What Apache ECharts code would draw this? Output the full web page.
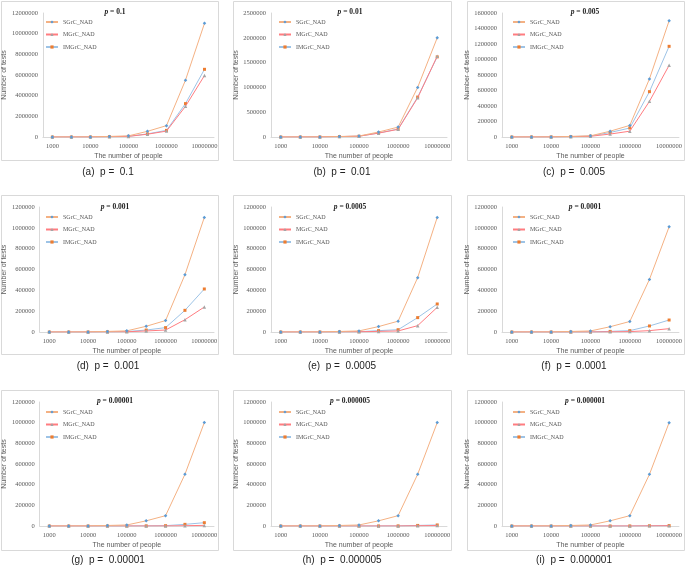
<!DOCTYPE html>
<html>
<head>
<meta charset="utf-8">
<script src="https://cdn.jsdelivr.net/npm/echarts@6/dist/echarts.min.js"></script>
<style>
  html, body { margin: 0; padding: 0; background: #fff; }
  #chart { width: 685px; height: 567px; }
</style>
</head>
<body>
<div id="chart"></div>
<script>
// x categories (number of people) and the panels' p values
var people = ['1000', '5000', '10000', '50000', '100000', '500000', '1000000', '5000000', '10000000'];
var pValues = ['0.1', '0.01', '0.005', '0.001', '0.0005', '0.0001', '0.00001', '0.000005', '0.000001'];
var panelTags = ['a', 'b', 'c', 'd', 'e', 'f', 'g', 'h', 'i'];
var yMax = [12000000, 2500000, 1600000, 1200000, 1200000, 1200000, 1200000, 1200000, 1200000];
var yStep = [2000000, 500000, 200000, 200000, 200000, 200000, 200000, 200000, 200000];

// (a) p = 0.1
var sgrcA = [1100, 5500, 11000, 55000, 110000, 550000, 1100000, 5500000, 11000000];
var mgrcA = [600, 2950, 5950, 29500, 59000, 270000, 570000, 2970000, 5950000];
var imgrcA = [660, 3250, 6500, 32500, 65000, 300000, 640000, 3230000, 6550000];
// (b) p = 0.01
var sgrcB = [200, 1000, 2000, 10000, 20000, 100000, 200000, 1000000, 2000000];
var mgrcB = [160, 800, 1600, 8000, 16000, 78000, 155000, 790000, 1630000];
var imgrcB = [165, 810, 1620, 8100, 16200, 80000, 160000, 805000, 1615000];
// (c) p = 0.005
var sgrcC = [150, 750, 1500, 7500, 15000, 75000, 150000, 750000, 1500000];
var mgrcC = [95, 460, 920, 4600, 9200, 38000, 75000, 460000, 925000];
var imgrcC = [120, 590, 1170, 5850, 11700, 58000, 116000, 585000, 1170000];
// (d) p = 0.001
var sgrcD = [110, 550, 1100, 5500, 11000, 55000, 110000, 550000, 1100000];
var mgrcD = [24, 120, 240, 1200, 2400, 10000, 19000, 118000, 240000];
var imgrcD = [41, 205, 410, 2050, 4100, 19000, 42000, 208000, 413000];
// (e) p = 0.0005
var sgrcE = [105, 525, 1050, 5250, 10500, 52000, 104000, 522000, 1100000];
var mgrcE = [24, 120, 240, 1200, 2400, 6000, 10000, 61000, 237000];
var imgrcE = [27, 135, 270, 1350, 2700, 13000, 22000, 138000, 269000];
// (f) p = 0.0001
var sgrcF = [101, 505, 1010, 5050, 10100, 50500, 101000, 505000, 1010000];
var mgrcF = [3, 16, 32, 160, 320, 1800, 4000, 13000, 32000];
var imgrcF = [12, 58, 115, 580, 1150, 6000, 13000, 58000, 115000];
// (g) p = 0.00001
var sgrcG = [100, 500, 1001, 5005, 10010, 50050, 100100, 500500, 1001000];
var mgrcG = [1, 3, 6, 30, 60, 300, 600, 3000, 6000];
var imgrcG = [3, 16, 32, 160, 320, 1600, 3200, 16000, 32000];
// (h) p = 0.000005
var sgrcH = [100, 500, 1000, 5003, 10005, 50025, 100050, 500250, 1000500];
var mgrcH = [1, 3, 5, 25, 50, 250, 500, 2500, 5000];
var imgrcH = [1, 5, 10, 50, 100, 500, 1000, 5500, 10000];
// (i) p = 0.000001
var sgrcI = [100, 500, 1000, 5001, 10001, 50005, 100010, 500050, 1000100];
var mgrcI = [1, 2, 3, 15, 30, 150, 300, 1500, 3000];
var imgrcI = [1, 2, 4, 20, 40, 200, 400, 2000, 4000];

var panels = [
  [sgrcA, mgrcA, imgrcA], [sgrcB, mgrcB, imgrcB], [sgrcC, mgrcC, imgrcC],
  [sgrcD, mgrcD, imgrcD], [sgrcE, mgrcE, imgrcE], [sgrcF, mgrcF, imgrcF],
  [sgrcG, mgrcG, imgrcG], [sgrcH, mgrcH, imgrcH], [sgrcI, mgrcI, imgrcI]
];

(function() {
  var chart = echarts.init(document.getElementById('chart'), null, { renderer: 'canvas' });

  var serif = '"Liberation Serif", "DejaVu Serif", serif';
  var sans = '"Liberation Sans", "DejaVu Sans", sans-serif';
  var labelGrey = '#595959';
  var ruleGrey = '#d9d9d9';

  // layout of the 3x3 grid
  var colX = [[37, 214], [271, 447], [502, 681]];
  var rowY = [[13, 137], [207, 332], [402, 526]];
  var boxX = [[1, 218], [233, 451], [467, 684]];
  var boxY = [[1, 160], [195, 354], [390, 550]];
  var titleX = [110, 345, 580];
  var titleY = [3, 198, 392];
  var capX = [108, 342, 574];
  var capY = [167, 361, 555];
  var legendX = [45, 278, 512];
  var legendY = [17.5, 212.5, 407.5];

  var seriesStyle = [
    { name: 'SGrC_NAD', line: '#f4b183', mark: '#5b9bd5', symbol: 'diamond', size: 3.5 },
    { name: 'MGrC_NAD', line: '#ff7c80', mark: '#a5a5a5', symbol: 'triangle', size: 3.5 },
    { name: 'IMGrC_NAD', line: '#9dc3e6', mark: '#ed7d31', symbol: 'rect', size: 3 }
  ];

  var grid = [], xAxis = [], yAxis = [], series = [], title = [], legend = [], graphic = [];

  for (var i = 0; i < 9; i++) {
    var r = Math.floor(i / 3), c = i % 3;
    grid.push({
      left: colX[c][0], width: colX[c][1] - colX[c][0],
      top: rowY[r][0], height: rowY[r][1] - rowY[r][0]
    });
    xAxis.push({
      gridIndex: i,
      type: 'category',
      data: people,
      boundaryGap: true,
      axisTick: { show: false },
      axisLine: { lineStyle: { color: ruleGrey, width: 1 } },
      axisLabel: { interval: 1, fontSize: 6.5, color: labelGrey, fontFamily: serif, margin: 6 },
      name: 'The number of people',
      nameLocation: 'middle',
      nameGap: 16,
      nameTextStyle: { fontSize: 7, color: labelGrey, fontFamily: sans }
    });
    yAxis.push({
      gridIndex: i,
      type: 'value',
      min: 0,
      max: yMax[i],
      interval: yStep[i],
      splitLine: { show: false },
      axisTick: { show: false },
      axisLine: { show: true, lineStyle: { color: ruleGrey, width: 1 } },
      axisLabel: {
        fontSize: 6.5, color: labelGrey, fontFamily: serif, margin: 5,
        formatter: function(v) { return String(v); }
      },
      name: 'Number of tests',
      nameLocation: 'middle',
      nameRotate: 90,
      nameGap: 30,
      nameTextStyle: { fontSize: 7, color: labelGrey, fontFamily: sans }
    });
    for (var s = 0; s < 3; s++) {
      var st = seriesStyle[s];
      series.push({
        type: 'line',
        name: st.name,
        xAxisIndex: i,
        yAxisIndex: i,
        data: panels[i][s],
        symbol: st.symbol,
        symbolSize: st.size,
        showAllSymbol: true,
        lineStyle: { color: st.line, width: 1 },
        itemStyle: { color: st.mark },
        z: 3 - s,
        animation: false
      });
    }
    title.push({
      text: '{i|p} = ' + pValues[i],
      left: titleX[c],
      top: titleY[r],
      textAlign: 'center',
      textStyle: {
        fontSize: 7.5, fontWeight: 'bold', fontFamily: serif, color: '#222',
        rich: { i: { fontSize: 7.5, fontWeight: 'bold', fontStyle: 'italic', fontFamily: serif, color: '#222' } }
      }
    });
    title.push({
      text: '(' + panelTags[i] + ')  p =  ' + pValues[i],
      left: capX[c],
      top: capY[r],
      padding: 0,
      textAlign: 'center',
      textStyle: { fontSize: 10, fontWeight: 'normal', fontFamily: sans, color: '#222' }
    });
    legend.push({
      data: ['SGrC_NAD', 'MGrC_NAD', 'IMGrC_NAD'],
      orient: 'vertical',
      left: legendX[c],
      top: legendY[r] + 1,
      itemWidth: 12,
      itemHeight: 4,
      itemGap: 5.5,
      padding: 0,
      textStyle: { fontSize: 6, color: labelGrey, fontFamily: serif, lineHeight: 7 }
    });
    graphic.push({
      type: 'rect',
      shape: { x: boxX[c][0] + 0.5, y: boxY[r][0] + 0.5, width: boxX[c][1] - boxX[c][0], height: boxY[r][1] - boxY[r][0] },
      style: { fill: null, stroke: ruleGrey, lineWidth: 1 },
      silent: true,
      z: -10
    });
  }

  chart.setOption({
    backgroundColor: '#fff',
    animation: false,
    title: title,
    legend: legend,
    grid: grid,
    xAxis: xAxis,
    yAxis: yAxis,
    series: series,
    graphic: graphic
  });

  window.addEventListener('resize', function() { chart.resize(); });
})();
</script>
</body>
</html>
